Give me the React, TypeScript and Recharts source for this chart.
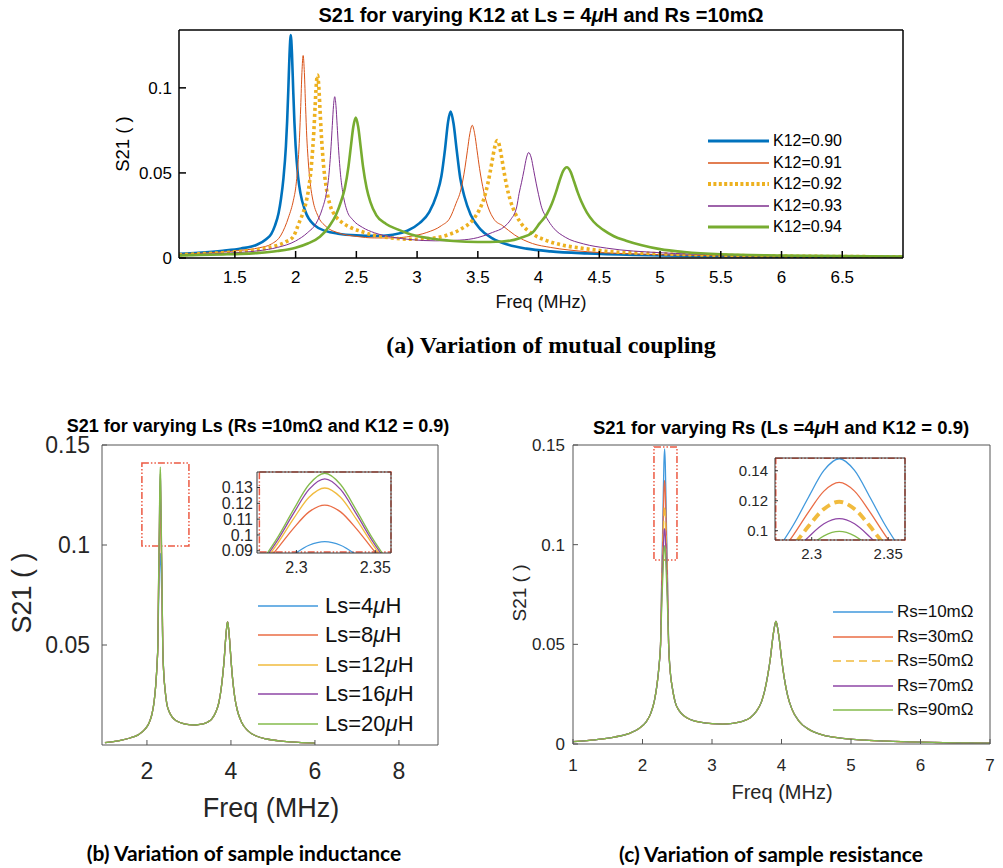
import React from "react";
import { LineChart, Line, XAxis, YAxis, ReferenceArea } from "recharts";

// ---- (a) S21 vs freq for varying K12 ----
const k090Freq = [1.04, 1.2, 1.4, 1.55, 1.68, 1.76, 1.8, 1.83, 1.86, 1.88, 1.9, 1.92, 1.93, 1.94, 1.95, 1.96, 1.97, 1.98, 1.99, 2.0, 2.02, 2.04, 2.08, 2.16, 2.25, 2.35, 2.5, 2.65, 2.8, 2.92, 3.02, 3.1, 3.16, 3.2, 3.23, 3.255, 3.276, 3.3, 3.325, 3.355, 3.39, 3.44, 3.52, 3.62, 3.75, 3.9, 4.1, 4.4, 4.8, 5.3, 6.0, 7.0];
const k090S21 = [0.0024, 0.0031, 0.0043, 0.0056, 0.0078, 0.0112, 0.0142, 0.019, 0.0265, 0.035, 0.047, 0.0655, 0.08, 0.099, 0.12, 0.131, 0.12, 0.099, 0.08, 0.066, 0.048, 0.038, 0.0275, 0.019, 0.0158, 0.0143, 0.0133, 0.013, 0.0137, 0.016, 0.0205, 0.027, 0.037, 0.048, 0.064, 0.08, 0.086, 0.079, 0.064, 0.047, 0.036, 0.0255, 0.017, 0.0115, 0.0078, 0.0055, 0.0039, 0.0027, 0.0018, 0.0012, 0.0008, 0.0005];

const k091Freq = [1.04, 1.2, 1.4, 1.55, 1.7, 1.8, 1.88, 1.942, 1.982, 2.002, 2.022, 2.032, 2.042, 2.052, 2.062, 2.072, 2.082, 2.092, 2.102, 2.122, 2.142, 2.182, 2.25, 2.35, 2.5, 2.65, 2.8, 2.95, 3.08, 3.2, 3.27, 3.32, 3.36, 3.394, 3.414, 3.434, 3.454, 3.474, 3.494, 3.514, 3.549, 3.584, 3.634, 3.704, 3.804, 3.95, 4.1, 4.4, 4.8, 5.3, 6.0, 7.0];
const k091S21 = [0.0021, 0.0027, 0.0035, 0.0045, 0.006, 0.0082, 0.0135, 0.024, 0.034, 0.042, 0.058, 0.071, 0.089, 0.109, 0.119, 0.109, 0.089, 0.071, 0.059, 0.043, 0.034, 0.025, 0.0185, 0.0148, 0.0127, 0.0118, 0.0118, 0.0128, 0.015, 0.019, 0.0235, 0.032, 0.04, 0.053, 0.063, 0.073, 0.078, 0.073, 0.063, 0.0527, 0.039, 0.03, 0.0227, 0.019, 0.0135, 0.0085, 0.0062, 0.0037, 0.0024, 0.0015, 0.001, 0.0006];

const k092Freq = [1.04, 1.2, 1.4, 1.55, 1.7, 1.82, 1.92, 1.98, 2.03, 2.08, 2.11, 2.13, 2.14, 2.15, 2.16, 2.17, 2.18, 2.19, 2.2, 2.21, 2.22, 2.23, 2.25, 2.28, 2.33, 2.38, 2.45, 2.54, 2.65, 2.79, 2.95, 3.1, 3.25, 3.36, 3.46, 3.51, 3.555, 3.58, 3.6, 3.62, 3.64, 3.66, 3.68, 3.7, 3.72, 3.74, 3.765, 3.81, 3.86, 3.96, 4.06, 4.2, 4.35, 4.56, 5.0, 5.5, 6.2, 7.0];
const k092S21 = [0.0019, 0.0024, 0.0031, 0.0039, 0.005, 0.0068, 0.0095, 0.0125, 0.021, 0.031, 0.042, 0.0545, 0.0635, 0.0745, 0.0884, 0.1016, 0.1075, 0.1016, 0.0884, 0.0745, 0.0635, 0.0545, 0.0425, 0.032, 0.0245, 0.021, 0.018, 0.0156, 0.0133, 0.0118, 0.011, 0.0114, 0.0135, 0.017, 0.0225, 0.028, 0.036, 0.043, 0.05, 0.058, 0.0654, 0.069, 0.0654, 0.0573, 0.049, 0.0415, 0.0345, 0.0259, 0.02, 0.0137, 0.0104, 0.0075, 0.0058, 0.004, 0.0025, 0.0016, 0.001, 0.0007];

const k093Freq = [1.04, 1.2, 1.4, 1.55, 1.7, 1.85, 2.0, 2.1, 2.17, 2.22, 2.25, 2.272, 2.282, 2.292, 2.302, 2.312, 2.322, 2.332, 2.342, 2.352, 2.362, 2.372, 2.392, 2.422, 2.47, 2.55, 2.65, 2.8, 2.95, 3.15, 3.35, 3.5, 3.62, 3.72, 3.77, 3.82, 3.84, 3.86, 3.88, 3.9, 3.918, 3.94, 3.96, 3.98, 4.0, 4.02, 4.07, 4.12, 4.22, 4.37, 4.56, 5.0, 5.5, 6.2, 7.0];
const k093S21 = [0.0017, 0.0021, 0.0027, 0.0033, 0.0043, 0.0062, 0.01, 0.015, 0.0205, 0.029, 0.037, 0.0474, 0.0555, 0.0657, 0.0779, 0.0896, 0.0948, 0.0896, 0.0779, 0.0657, 0.0555, 0.0474, 0.037, 0.028, 0.0225, 0.018, 0.0148, 0.0122, 0.0108, 0.0101, 0.0105, 0.012, 0.015, 0.0185, 0.0225, 0.03, 0.038, 0.0445, 0.0515, 0.0588, 0.062, 0.0588, 0.0515, 0.044, 0.0372, 0.031, 0.0232, 0.0179, 0.0122, 0.0083, 0.0058, 0.0031, 0.0019, 0.0012, 0.0008];

const k094Freq = [1.04, 1.2, 1.4, 1.55, 1.7, 1.85, 2.0, 2.1, 2.2, 2.28, 2.33, 2.375, 2.405, 2.435, 2.455, 2.475, 2.495, 2.515, 2.535, 2.555, 2.585, 2.615, 2.665, 2.745, 2.85, 2.95, 3.1, 3.3, 3.5, 3.7, 3.85, 3.95, 4.01, 4.07, 4.11, 4.14, 4.17, 4.2, 4.233, 4.263, 4.293, 4.323, 4.353, 4.398, 4.453, 4.533, 4.62, 4.72, 4.85, 5.0, 5.2, 5.5, 6.0, 6.5, 7.0];
const k094S21 = [0.0015, 0.0018, 0.0021, 0.0024, 0.003, 0.0041, 0.006, 0.0085, 0.0125, 0.019, 0.025, 0.0335, 0.041, 0.0537, 0.0656, 0.0771, 0.0825, 0.0771, 0.0656, 0.0537, 0.041, 0.033, 0.025, 0.02, 0.0165, 0.0138, 0.0116, 0.01, 0.0094, 0.0097, 0.0118, 0.015, 0.0205, 0.026, 0.032, 0.038, 0.0448, 0.0508, 0.0533, 0.0508, 0.0448, 0.0384, 0.033, 0.0267, 0.0213, 0.0165, 0.0128, 0.0102, 0.0075, 0.0052, 0.0035, 0.0022, 0.0015, 0.0011, 0.0009];

const freqTicksA = [1.5, 2, 2.5, 3, 3.5, 4, 4.5, 5, 5.5, 6, 6.5];
const s21TicksA = [0, 0.05, 0.1];

// ---- (b)/(c) shared response, differing only around the first peak ----
const baseLeftFreq = [1.0, 1.2, 1.4, 1.6, 1.8, 1.95, 2.05, 2.12, 2.17, 2.21, 2.24, 2.26];
const baseLeftS21 = [0.0012, 0.0017, 0.0024, 0.0035, 0.0052, 0.0078, 0.011, 0.0155, 0.0215, 0.03, 0.04, 0.05];
const baseRightFreq = [2.376, 2.4, 2.43, 2.47, 2.53, 2.6, 2.7, 2.85, 3.0, 3.15, 3.3, 3.45, 3.55, 3.64, 3.71, 3.76, 3.8, 3.84, 3.87, 3.9, 3.92, 3.94, 3.97, 4.0, 4.04, 4.09, 4.15, 4.25, 4.4, 4.6, 4.85, 5.2, 5.6, 6.0, 6.5, 7.0];
const baseRightS21 = [0.05, 0.036, 0.028, 0.021, 0.0166, 0.014, 0.0121, 0.0108, 0.0102, 0.01, 0.0104, 0.0115, 0.0132, 0.0165, 0.021, 0.027, 0.034, 0.043, 0.052, 0.059, 0.0615, 0.059, 0.052, 0.043, 0.033, 0.024, 0.0175, 0.0115, 0.0072, 0.0045, 0.003, 0.0019, 0.0013, 0.0009, 0.0006, 0.0004];
const peakFreq = [2.278, 2.288, 2.298, 2.308, 2.318, 2.328, 2.338, 2.348, 2.358];

const ls4Peak = [0.0713, 0.0795, 0.0874, 0.0935, 0.0958, 0.0935, 0.0874, 0.0795, 0.0713];
const ls8Peak = [0.0797, 0.0915, 0.104, 0.1146, 0.1189, 0.1146, 0.104, 0.0915, 0.0797];
const ls12Peak = [0.081, 0.0946, 0.11, 0.1238, 0.1297, 0.1238, 0.11, 0.0946, 0.081];
const ls16Peak = [0.0822, 0.0966, 0.1133, 0.1288, 0.1355, 0.1288, 0.1133, 0.0966, 0.0822];
const ls20Peak = [0.0834, 0.0983, 0.1157, 0.1319, 0.139, 0.1319, 0.1157, 0.0983, 0.0834];

const rs10Peak = [0.0878, 0.1038, 0.1225, 0.1402, 0.148, 0.1402, 0.1225, 0.1038, 0.0878];
const rs30Peak = [0.0834, 0.0971, 0.1126, 0.1264, 0.1322, 0.1264, 0.1126, 0.0971, 0.0834];
const rs50Peak = [0.0777, 0.0898, 0.1031, 0.1145, 0.1193, 0.1145, 0.1031, 0.0898, 0.0777];
const rs70Peak = [0.075, 0.0853, 0.0959, 0.1046, 0.108, 0.1046, 0.0959, 0.0853, 0.075];
const rs90Peak = [0.0706, 0.0798, 0.0891, 0.0966, 0.0995, 0.0966, 0.0891, 0.0798, 0.0706];

const freqTicksB = [2, 4, 6, 8];
const s21TicksB = [0.05, 0.1, 0.15];
const freqTicksC = [1, 2, 3, 4, 5, 6, 7];
const s21TicksC = [0, 0.05, 0.1, 0.15];
const zoomFreqTicks = [2.3, 2.35];
const zoomTicksB = [0.09, 0.1, 0.11, 0.12, 0.13];
const zoomTicksC = [0.1, 0.12, 0.14];

const SANS = '"Liberation Sans", Arial, Helvetica, sans-serif';
const CAPTION = 'Lato, "Open Sans", sans-serif';
const RED = "#ec5a43";
const RED_DASH = "7 2 1.5 2 1.5 2";
const MATLAB = ["#0072BD", "#D95319", "#EDB120", "#7E2F8E", "#77AC30"];
const SOFT = ["#4199dd", "#ea6c45", "#f1bb3e", "#8e46a6", "#84bb4c"];

type Row = { f: number; s: number };
const toRows = (freq: number[], s21: number[]): Row[] => freq.map((f, i) => ({ f, s: s21[i] }));

const fullCurve = (peak: number[], maxF: number) =>
  [...toRows(baseLeftFreq, baseLeftS21), ...toRows(peakFreq, peak), ...toRows(baseRightFreq, baseRightS21)].filter(
    (r) => r.f <= maxF,
  );

const seriesA = [
  { name: "K12=0.90", rows: toRows(k090Freq, k090S21), color: MATLAB[0], width: 2.6, dash: undefined as string | undefined },
  { name: "K12=0.91", rows: toRows(k091Freq, k091S21), color: MATLAB[1], width: 1, dash: undefined },
  { name: "K12=0.92", rows: toRows(k092Freq, k092S21), color: MATLAB[2], width: 3.6, dash: "3 3" },
  { name: "K12=0.93", rows: toRows(k093Freq, k093S21), color: MATLAB[3], width: 1, dash: undefined },
  { name: "K12=0.94", rows: toRows(k094Freq, k094S21), color: MATLAB[4], width: 2.6, dash: undefined },
];

const peaksB = [ls4Peak, ls8Peak, ls12Peak, ls16Peak, ls20Peak];
const namesB = ["Ls=4μH", "Ls=8μH", "Ls=12μH", "Ls=16μH", "Ls=20μH"];
const peaksC = [rs10Peak, rs30Peak, rs50Peak, rs70Peak, rs90Peak];
const namesC = ["Rs=10mΩ", "Rs=30mΩ", "Rs=50mΩ", "Rs=70mΩ", "Rs=90mΩ"];

const greek = (text: string) =>
  text.split("μ").flatMap((part, i) => (i === 0 ? [part] : [<i key={i}>μ</i>, part]));

type Frame = {
  xDomain: [number, number];
  yDomain: [number, number];
  xTicks: number[];
  yTicks: number[];
  xHeight: number;
  yWidth: number;
  tickSize: number;
  xMargin: number;
  yMargin: number;
  stroke: string;
  strokeWidth: number;
  font: number;
  color: string;
};

// MATLAB-style box: inward ticks on all four sides
function frameAxes(f: Frame) {
  const line = { stroke: f.stroke, strokeWidth: f.strokeWidth };
  const tick = { fill: f.color, fontSize: f.font, fontFamily: SANS };
  return [
    <XAxis key="xb" xAxisId="b" dataKey="f" type="number" domain={f.xDomain} ticks={f.xTicks} interval={0} allowDataOverflow height={f.xHeight} tickSize={-f.tickSize} tickMargin={f.xMargin} axisLine={line} tickLine={line} tick={tick} />,
    <XAxis key="xt" xAxisId="t" orientation="top" type="number" domain={f.xDomain} ticks={f.xTicks} interval={0} allowDataOverflow height={1} tickSize={-f.tickSize} axisLine={line} tickLine={line} tick={false} />,
    <YAxis key="yl" yAxisId="l" type="number" domain={f.yDomain} ticks={f.yTicks} interval={0} allowDataOverflow width={f.yWidth} tickSize={-f.tickSize} tickMargin={f.yMargin} axisLine={line} tickLine={line} tick={tick} />,
    <YAxis key="yr" yAxisId="r" orientation="right" type="number" domain={f.yDomain} ticks={f.yTicks} interval={0} allowDataOverflow width={1} tickSize={-f.tickSize} axisLine={line} tickLine={line} tick={false} />,
  ];
}

function Text({ x, y, size, children, bold, rotate, family, color }: { x: number; y: number; size: number; children: React.ReactNode; bold?: boolean; rotate?: boolean; family?: string; color?: string }) {
  return (
    <div
      style={{
        position: "absolute",
        left: x,
        top: y,
        transform: `translate(-50%, -50%)${rotate ? " rotate(-90deg)" : ""}`,
        fontSize: size,
        fontWeight: bold ? 700 : 400,
        fontFamily: family ?? SANS,
        color: color ?? "#000",
        whiteSpace: "nowrap",
        lineHeight: 1,
      }}
    >
      {children}
    </div>
  );
}

type LegendItem = { name: string; color: string; width: number; dash?: string };

function LineLegend({ items, left, top, rowH, lineLen, gap, size, color }: { items: LegendItem[]; left: number; top: number; rowH: number; lineLen: number; gap: number; size: number; color: string }) {
  return (
    <div style={{ position: "absolute", left, top: 0, fontFamily: SANS, fontSize: size, color }}>
      {items.map((it, i) => (
        <div key={it.name} style={{ position: "absolute", left: 0, top: top + i * rowH - rowH / 2, height: rowH, display: "flex", alignItems: "center", whiteSpace: "nowrap" }}>
          <svg width={lineLen} height={10} style={{ marginRight: gap, flex: "none" }}>
            <line x1={0} x2={lineLen} y1={5} y2={5} stroke={it.color} strokeWidth={it.width} strokeDasharray={it.dash} />
          </svg>
          <span>{greek(it.name)}</span>
        </div>
      ))}
    </div>
  );
}

function ChartA() {
  const frame: Frame = { xDomain: [1.04, 7], yDomain: [0, 0.134], xTicks: freqTicksA, yTicks: s21TicksA, xHeight: 42, yWidth: 179, tickSize: 7, xMargin: 20, yMargin: 14, stroke: "#000", strokeWidth: 1.5, font: 17, color: "#000" };
  return (
    <>
      <div style={{ position: "absolute", left: 0, top: 0 }}>
        <LineChart width={1003} height={300} margin={{ top: 29, right: 99, bottom: 0, left: 0 }}>
          {frameAxes(frame)}
          {seriesA.map((s) => (
            <Line key={s.name} xAxisId="b" yAxisId="l" data={s.rows} dataKey="s" type="monotone" stroke={s.color} strokeWidth={s.width} strokeDasharray={s.dash} dot={false} activeDot={false} isAnimationActive={false} />
          ))}
        </LineChart>
      </div>
      <Text x={541} y={15} size={20} bold>
        S21 for varying K12 at Ls = 4<i>μ</i>H and Rs =10mΩ
      </Text>
      <Text x={123} y={144} size={18.5} rotate>S21 ( )</Text>
      <Text x={541} y={302} size={18} color="#111">Freq (MHz)</Text>
      <LineLegend
        items={seriesA.map((s) => ({ name: s.name, color: s.color, width: s.dash ? 4 : s.width + 0.4, dash: s.dash ? "3 2.4" : undefined }))}
        left={708}
        top={141}
        rowH={21.6}
        lineLen={61}
        gap={4}
        size={16}
        color="#000"
      />
      <Text x={551} y={345} size={24} bold family='"Liberation Serif", "Times New Roman", serif'>
        (a) Variation of mutual coupling
      </Text>
    </>
  );
}

function ChartB() {
  const frame: Frame = { xDomain: [0.93, 8.93], yDomain: [0, 0.15], xTicks: freqTicksB, yTicks: s21TicksB, xHeight: 45, yWidth: 102, tickSize: 5, xMargin: 23, yMargin: 17, stroke: "#555", strokeWidth: 1, font: 23, color: "#262626" };
  const zoom: Frame = { xDomain: [2.275, 2.36], yDomain: [0.0886, 0.1398], xTicks: zoomFreqTicks, yTicks: zoomTicksB, xHeight: 29, yWidth: 57, tickSize: 3, xMargin: 12, yMargin: 7, stroke: "#333", strokeWidth: 1, font: 16, color: "#262626" };
  return (
    <>
      <div style={{ position: "absolute", left: 0, top: 430 }}>
        <LineChart width={480} height={360} margin={{ top: 14, right: 41, bottom: 0, left: 0 }}>
          {frameAxes(frame)}
          <ReferenceArea xAxisId="b" yAxisId="l" x1={1.88} x2={3.0} y1={0.0995} y2={0.141} fill="none" fillOpacity={0} stroke={RED} strokeWidth={1.5} strokeDasharray={RED_DASH} ifOverflow="visible" />
          {peaksB.map((p, i) => (
            <Line key={namesB[i]} xAxisId="b" yAxisId="l" data={fullCurve(p, 6)} dataKey="s" type="monotone" stroke={SOFT[i]} strokeWidth={1.3} dot={false} activeDot={false} isAnimationActive={false} />
          ))}
        </LineChart>
      </div>
      <div style={{ position: "absolute", left: 200, top: 462 }}>
        <LineChart width={200} height={120} margin={{ top: 9, right: 8, bottom: 0, left: 0 }}>
          {frameAxes(zoom)}
          {peaksB.map((p, i) => (
            <Line key={namesB[i]} xAxisId="b" yAxisId="l" data={toRows(peakFreq, p)} dataKey="s" type="monotone" stroke={SOFT[i]} strokeWidth={1.3} dot={false} activeDot={false} isAnimationActive={false} />
          ))}
          <ReferenceArea xAxisId="b" yAxisId="l" x1={2.2765} x2={2.36} y1={0.0892} y2={0.1398} fill="none" fillOpacity={0} stroke={RED} strokeWidth={1.5} strokeDasharray={RED_DASH} ifOverflow="visible" />
        </LineChart>
      </div>
      <Text x={258} y={426} size={18} bold>
        S21 for varying Ls (Rs =10mΩ and K12 = 0.9)
      </Text>
      <Text x={22} y={593} size={27} rotate color="#262626">S21 ( )</Text>
      <Text x={271} y={808} size={27} color="#262626">Freq (MHz)</Text>
      <LineLegend items={namesB.map((n, i) => ({ name: n, color: SOFT[i], width: 1.6 }))} left={258} top={606} rowH={29.4} lineLen={60} gap={7} size={22} color="#111" />
      <Text x={244} y={852} size={21} bold family={CAPTION}>
        (b) Variation of sample inductance
      </Text>
    </>
  );
}

function ChartC() {
  const frame: Frame = { xDomain: [1, 7], yDomain: [0, 0.15], xTicks: freqTicksC, yTicks: s21TicksC, xHeight: 46, yWidth: 73, tickSize: 5, xMargin: 20, yMargin: 13, stroke: "#555", strokeWidth: 1, font: 17, color: "#262626" };
  const zoom: Frame = { xDomain: [2.276, 2.361], yDomain: [0.0938, 0.1485], xTicks: zoomFreqTicks, yTicks: zoomTicksC, xHeight: 23, yWidth: 65, tickSize: 3, xMargin: 11, yMargin: 10, stroke: "#333", strokeWidth: 1, font: 15, color: "#262626" };
  const dashC = (i: number) => (i === 2 ? "8 5" : undefined);
  return (
    <>
      <div style={{ position: "absolute", left: 500, top: 430 }}>
        <LineChart width={503} height={360} margin={{ top: 14, right: 12, bottom: 0, left: 0 }}>
          {frameAxes(frame)}
          <ReferenceArea xAxisId="b" yAxisId="l" x1={2.165} x2={2.496} y1={0.0923} y2={0.149} fill="none" fillOpacity={0} stroke={RED} strokeWidth={1.5} strokeDasharray={RED_DASH} ifOverflow="visible" />
          {peaksC.map((p, i) => (
            <Line key={namesC[i]} xAxisId="b" yAxisId="l" data={fullCurve(p, 7)} dataKey="s" type="monotone" stroke={SOFT[i]} strokeWidth={1.3} strokeDasharray={dashC(i)} dot={false} activeDot={false} isAnimationActive={false} />
          ))}
        </LineChart>
      </div>
      <div style={{ position: "absolute", left: 710, top: 448 }}>
        <LineChart width={205} height={115} margin={{ top: 9, right: 9, bottom: 0, left: 0 }}>
          {frameAxes(zoom)}
          {peaksC.map((p, i) => (
            <Line key={namesC[i]} xAxisId="b" yAxisId="l" data={toRows(peakFreq, p)} dataKey="s" type="monotone" stroke={SOFT[i]} strokeWidth={i === 2 ? 3.8 : 1.3} strokeDasharray={i === 2 ? "9 5" : undefined} dot={false} activeDot={false} isAnimationActive={false} />
          ))}
          <ReferenceArea xAxisId="b" yAxisId="l" x1={2.2765} x2={2.361} y1={0.0938} y2={0.1483} fill="none" fillOpacity={0} stroke={RED} strokeWidth={1.5} strokeDasharray={RED_DASH} ifOverflow="visible" />
        </LineChart>
      </div>
      <Text x={781} y={428} size={18.5} bold>
        S21 for varying Rs (Ls =4<i>μ</i>H and K12 = 0.9)
      </Text>
      <Text x={519} y={593} size={19} rotate color="#262626">S21 ( )</Text>
      <Text x={782} y={792} size={20} color="#262626">Freq (MHz)</Text>
      <LineLegend items={namesC.map((n, i) => ({ name: n, color: SOFT[i], width: 1.6, dash: dashC(i) }))} left={833} top={612} rowH={24.6} lineLen={60} gap={4} size={17} color="#111" />
      <Text x={771} y={853} size={21} bold family={CAPTION}>
        (c) Variation of sample resistance
      </Text>
    </>
  );
}

export default function App() {
  return (
    <div style={{ position: "absolute", left: 0, top: 0, width: 1003, height: 868, background: "#fff", overflow: "hidden" }}>
      <ChartA />
      <ChartB />
      <ChartC />
    </div>
  );
}
